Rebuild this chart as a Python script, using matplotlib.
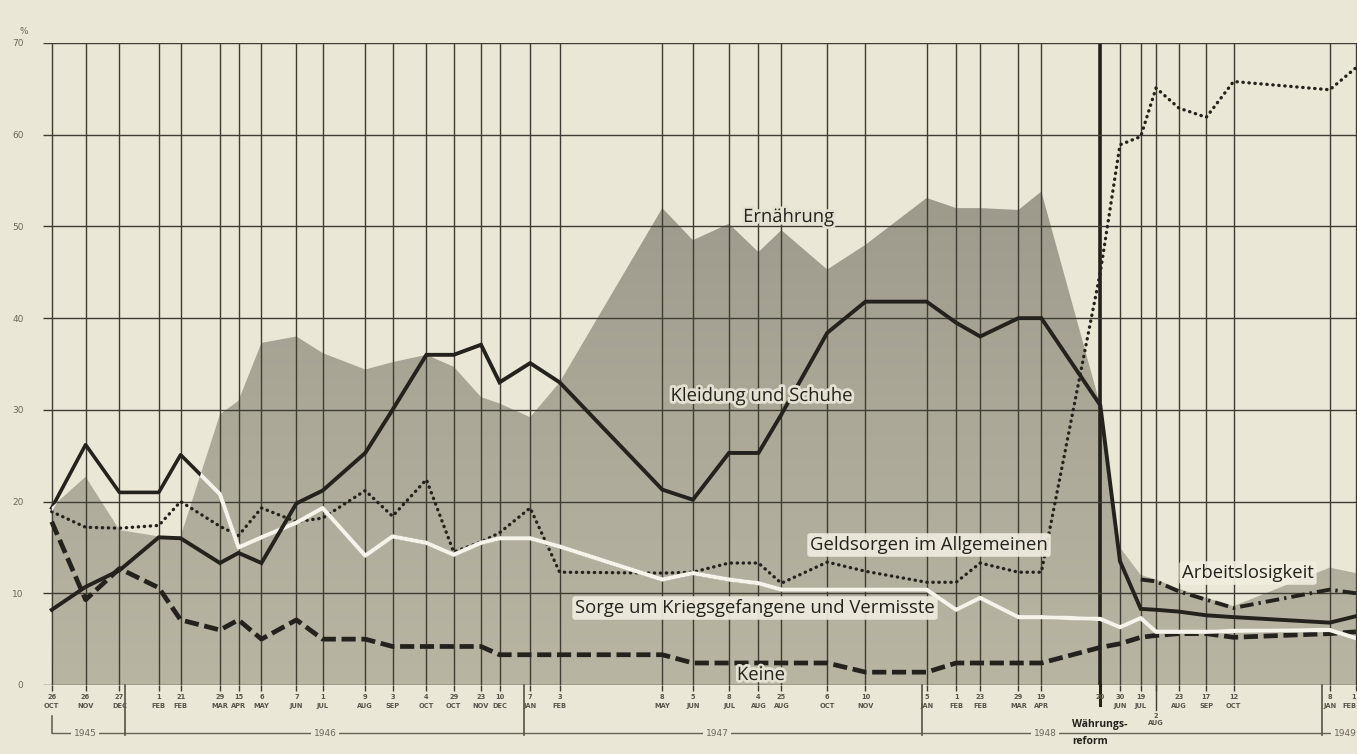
import datetime as dt
import numpy as np
import matplotlib
matplotlib.use("Agg")
import matplotlib.pyplot as plt
import matplotlib.dates as mdates
import matplotlib.patheffects as pe
from matplotlib.colors import LinearSegmentedColormap

# ---------------- data ----------------
survey_dates = ['1945-10-26', '1945-11-26', '1945-12-27', '1946-02-01', '1946-02-21',
                '1946-03-29', '1946-04-15', '1946-05-06', '1946-06-07', '1946-07-01',
                '1946-08-09', '1946-09-03', '1946-10-04', '1946-10-29', '1946-11-23',
                '1946-12-10', '1947-01-07', '1947-02-03', '1947-05-08', '1947-06-05',
                '1947-07-08', '1947-08-04', '1947-08-25', '1947-10-06', '1947-11-10',
                '1948-01-05', '1948-02-01', '1948-02-23', '1948-03-29', '1948-04-19',
                '1948-06-12', '1948-06-30', '1948-07-19', '1948-08-02', '1948-08-23',
                '1948-09-17', '1948-10-12', '1949-01-08', '1949-02-01']
tick_days = ['26', '26', '27', '1', '21', '29', '15', '6', '7', '1', '9', '3', '4', '29', '23',
             '10', '7', '3', '8', '5', '8', '4', '25', '6', '10', '5', '1', '23', '29', '19',
             '20', '30', '19', '2', '23', '17', '12', '8', '1']
tick_months = ['OCT', 'NOV', 'DEC', 'FEB', 'FEB', 'MAR', 'APR', 'MAY', 'JUN', 'JUL', 'AUG', 'SEP',
               'OCT', 'OCT', 'NOV', 'DEC', 'JAN', 'FEB', 'MAY', 'JUN', 'JUL', 'AUG', 'AUG', 'OCT',
               'NOV', 'JAN', 'FEB', 'FEB', 'MAR', 'APR', '', 'JUN', 'JUL', 'AUG', 'AUG', 'SEP',
               'OCT', 'JAN', 'FEB']
years = ['1945', '1946', '1947', '1948', '1949']

ernaehrung = [19.4, 22.7, 16.9, 16.2, 16.2, 29.5, 31.0, 37.3, 38.0, 36.2, 34.4, 35.2, 36.0,
              34.7, 31.4, 30.7, 29.2, 33.0, 52.0, 48.5, 50.3, 47.2, 49.6, 45.3, 48.0, 53.1,
              52.0, 52.0, 51.8, 53.8, 30.5, 15.0, 12.0, 11.5, 10.5, 9.5, 8.6, 12.8, 12.2]
kleidung = [8.2, 10.7, 12.5, 16.1, 16.0, 13.3, 14.4, 13.3, 19.8, 21.2, 25.3, 30.0, 36.0,
            36.0, 37.1, 33.0, 35.1, 33.0, 21.3, 20.2, 25.3, 25.3, 29.5, 38.4, 41.8, 41.8,
            39.5, 38.0, 40.0, 40.0, 30.5, 13.5, 8.3, 8.2, 8.0, 7.6, 7.4, 6.8, 7.5]
geldsorgen = [18.9, 17.2, 17.1, 17.4, 20.0, 17.3, 16.3, 19.3, 17.8, 18.2, 21.2, 18.4, 22.4,
              14.5, 15.6, 16.6, 19.3, 12.3, 12.2, 12.3, 13.3, 13.3, 11.1, 13.4, 12.4, 11.2,
              11.2, 13.3, 12.3, 12.3, 45.0, 58.9, 59.8, 65.1, 62.9, 61.9, 65.8, 64.9, 67.3]
sorge_kriegsgef = [19.3, 26.2, 21.0, 21.0, 25.1, 20.8, 15.0, 16.1, 17.7, 19.3, 14.1, 16.2,
                   15.5, 14.2, 15.5, 16.0, 16.0, 15.1, 11.5, 12.2, 11.5, 11.1, 10.4, 10.4,
                   10.4, 10.4, 8.2, 9.5, 7.4, 7.4, 7.2, 6.3, 7.3, 5.8, 5.8, 5.8, 5.9, 6.0, 5.1]
keine = [17.8, 9.3, 12.7, 10.6, 7.1, 6.0, 7.1, 5.0, 7.1, 5.0, 5.0, 4.2, 4.2, 4.2, 4.2, 3.3,
         3.3, 3.3, 3.3, 2.4, 2.4, 2.4, 2.4, 2.4, 1.4, 1.4, 2.4, 2.4, 2.4, 2.4, 4.1, 4.5, 5.2,
         5.4, 5.6, 5.6, 5.2, 5.6, 5.8]
arbeitslosigkeit = [np.nan] * 32 + [11.5, 11.3, 10.2, 9.3, 8.4, 10.4, 10.0]
reform_index = 30
low_label_index = 33

# ---------------- style ----------------
BG = '#ebe7d6'
INK = '#23221d'
GRID = '#3e3c33'
WHITE = '#f6f4ea'
FONT = 'Open Sans'

W, H = 1357, 754
fig = plt.figure(figsize=(W / 100, H / 100), dpi=100, facecolor=BG)
ax_left, ax_bottom_px, ax_top_px = 43, 685, 43
ax = fig.add_axes([ax_left / W, 1 - ax_bottom_px / H, 1 - ax_left / W,
                   (ax_bottom_px - ax_top_px) / H])
ax.set_facecolor(BG)

xn = mdates.date2num([dt.datetime.fromisoformat(s) for s in survey_dates])
x0 = mdates.date2num(dt.datetime(1945, 10, 18))
x1 = mdates.date2num(dt.datetime(1949, 2, 2))
ax.set_xlim(x0, x1)
ax.set_ylim(0, 70)
for s in ax.spines.values():
    s.set_visible(False)

# Ernährung shaded area with gradient
poly = ax.fill_between(xn, 0, ernaehrung, facecolor='none', edgecolor='none', lw=0)
clip_path = poly.get_paths()[0]
cmap = LinearSegmentedColormap.from_list('wash', [(0, '#b9b5a3'), (0.45, '#aaa797'),
                                                  (0.8, '#9c998b'), (1, '#979486')])
grad = np.linspace(0, 1, 256).reshape(-1, 1)
im = ax.imshow(grad, extent=[x0, x1, 0, 70], origin='lower', aspect='auto', cmap=cmap,
               zorder=1, interpolation='bilinear')
im.set_clip_path(clip_path, transform=ax.transData)

# grid
ax.vlines(xn, 0, 70, color=GRID, lw=1.0, zorder=2)
ax.vlines(xn[reform_index], 0, 70, color=INK, lw=2.6, zorder=2)
ax.hlines(np.arange(0, 71, 10), x0, x1, color=GRID, lw=1.0, zorder=2)

# series
ax.plot(xn, keine, color=INK, lw=3.4, linestyle=(0, (3.0, 1.2)), zorder=4)
ax.plot(xn, geldsorgen, color=INK, lw=2.4, linestyle=(0, (0.1, 1.7)),
        dash_capstyle='round', zorder=4)
ax.plot(xn, kleidung, color=INK, lw=2.8, solid_joinstyle='miter', zorder=5)
ax.plot(xn, arbeitslosigkeit, color=INK, lw=2.8, linestyle=(0, (3.5, 1.3, 0.6, 1.3)), zorder=4)
ax.plot(xn, sorge_kriegsgef, color=INK, lw=2.6, zorder=4)
wl, = ax.plot(xn, sorge_kriegsgef, color=WHITE, lw=3.0, zorder=4.5)
wl.set_clip_path(clip_path, transform=ax.transData)

# y ticks
ax.set_yticks(np.arange(0, 71, 10))
ax.set_yticklabels([str(v) for v in range(0, 71, 10)])
ax.tick_params(axis='y', length=0, pad=14, labelsize=6.5, labelcolor='#6b685c')
ax.set_xticks(xn)
ax.set_xticklabels([''] * len(xn))
ax.tick_params(axis='x', length=4, width=1, color=GRID, direction='out')
fig.text(24 / W, 1 - 31 / H, '%', ha='center', va='center', fontsize=6.5, color='#6b685c')

# x labels (two rows)
xt = ax.get_xaxis_transform()
hpx = ax_bottom_px - ax_top_px


def fy(ypx):
    return (ax_bottom_px - ypx) / hpx


n = len(xn)
for i, (xi, d, m) in enumerate(zip(xn, tick_days, tick_months)):
    yd, ym = (716, 723) if i == low_label_index else (697, 706)
    kw = dict(transform=xt, ha='right' if i == n - 1 else 'center', va='center',
              fontsize=4.8, fontweight='bold', color='#57544b', clip_on=False,
              family='DejaVu Sans')
    ax.text(xi, fy(yd), d, **kw)
    if m:
        ax.text(xi, fy(ym), m, **kw)

# year bar
ax.plot([xn[0], x1], [fy(733)] * 2, transform=xt, color='#66635a', lw=1.0, clip_on=False)
ax.plot([xn[0], xn[0]], [fy(716), fy(733)], transform=xt, color='#66635a', lw=1.2,
        clip_on=False)
for y in years[1:]:
    xb = mdates.date2num(dt.datetime(int(y), 1, 1))
    ax.plot([xb, xb], [0, fy(735)], transform=xt, color='#55524a', lw=1.2, clip_on=False)
ax.plot([xn[reform_index]] * 2, [0, fy(705)], transform=xt, color=INK, lw=2.2, clip_on=False)
ax.plot([xn[low_label_index]] * 2, [0, fy(710)], transform=xt, color=GRID, lw=1.0,
        clip_on=False)

year_px = [85, 325, 717, 1045, 1345]
for y, px in zip(years, year_px):
    fig.text(px / W, 1 - 733 / H, y, ha='center', va='center', fontsize=6.5, color='#6b685c',
             bbox=dict(boxstyle='square,pad=0.25', fc=BG, ec='none'))
fig.text(1072 / W, 1 - 724 / H, 'Währungs-', ha='left', va='center', fontsize=7.5,
         fontweight='bold', color=INK, family=FONT)
fig.text(1072 / W, 1 - 742 / H, 'reform', ha='left', va='center', fontsize=7.5,
         fontweight='bold', color=INK, family=FONT)

# series labels
halo = [pe.withStroke(linewidth=4, foreground='#e4e1d2')]
box = dict(boxstyle='round,pad=0.15', fc='#f1eee1', ec='none', alpha=0.9)
lab = dict(ha='center', va='center', fontsize=13.3, color=INK, family=FONT, zorder=10)
fig.text(789 / W, 1 - 217 / H, 'Ernährung', path_effects=halo, **lab)
fig.text(762 / W, 1 - 396 / H, 'Kleidung und Schuhe', path_effects=halo, **lab)
fig.text(929 / W, 1 - 545 / H, 'Geldsorgen im Allgemeinen', bbox=box, **lab)
fig.text(755 / W, 1 - 608 / H, 'Sorge um Kriegsgefangene und Vermisste', bbox=box, **lab)
fig.text(761 / W, 1 - 675 / H, 'Keine', path_effects=halo, **lab)
fig.text(1248 / W, 1 - 573 / H, 'Arbeitslosigkeit', bbox=box, **lab)

fig.savefig('out.png', dpi=100, facecolor=BG)
